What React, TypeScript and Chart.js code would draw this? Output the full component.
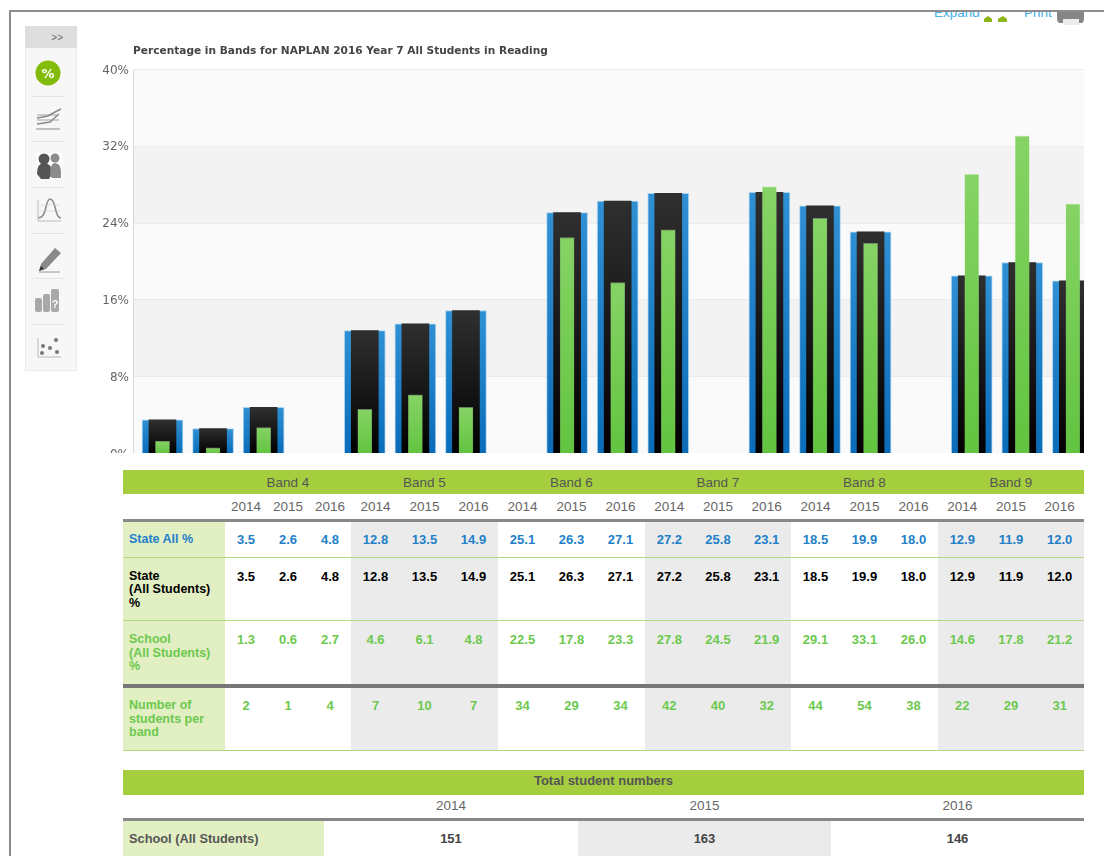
import React, { useEffect, useRef } from "react";
import { Chart, registerables } from "chart.js";

Chart.register(...registerables);

const bands = ["Band 4", "Band 5", "Band 6", "Band 7", "Band 8", "Band 9"];
const years = ["2014", "2015", "2016"];
const stateAll = [3.5, 2.6, 4.8, 12.8, 13.5, 14.9, 25.1, 26.3, 27.1, 27.2, 25.8, 23.1, 18.5, 19.9, 18.0, 12.9, 11.9, 12.0];
const school = [1.3, 0.6, 2.7, 4.6, 6.1, 4.8, 22.5, 17.8, 23.3, 27.8, 24.5, 21.9, 29.1, 33.1, 26.0, 14.6, 17.8, 21.2];
const students = [2, 1, 4, 7, 10, 7, 34, 29, 34, 42, 40, 32, 44, 54, 38, 22, 29, 31];
const totalYears = ["2014", "2015", "2016"];
const totals = [151, 163, 146];
const title = "Percentage in Bands for NAPLAN 2016 Year 7 All Students in Reading";

const SANS = '"Liberation Sans", Arial, sans-serif';
const VERDANA = '"DejaVu Sans", Verdana, sans-serif';
const GREEN_HEAD = "#a5ce3e";
const LABEL_BG = "#e2efc3";
const SHADE = "#ebebeb";
const BLUE_TXT = "#1f7fc9";
const GREEN_TXT = "#6cc94e";

// one slot per year, with an empty slot between bands
const slotOf = (i: number) => Math.floor(i / 3) * 4 + (i % 3);
const points = (values: number[]) => values.map((y, i) => ({ x: slotOf(i), y }));

const barGradient = (top: string, bottom: string) => (ctx: any) => {
  const chart = ctx.chart;
  if (!chart.chartArea || !ctx.parsed) return bottom;
  const yScale = chart.scales.y;
  const g = chart.ctx.createLinearGradient(0, yScale.getPixelForValue(ctx.parsed.y), 0, yScale.getPixelForValue(0));
  g.addColorStop(0, top);
  g.addColorStop(1, bottom);
  return g;
};

const stripes = {
  id: "stripes",
  beforeDraw(chart: any) {
    const { ctx, chartArea, scales } = chart;
    const ticks = scales.y.ticks;
    ctx.save();
    for (let i = 0; i < ticks.length - 1; i++) {
      const y0 = scales.y.getPixelForValue(ticks[i].value);
      const y1 = scales.y.getPixelForValue(ticks[i + 1].value);
      ctx.fillStyle = i % 2 === 0 ? "#fafafa" : "#f3f3f3";
      ctx.fillRect(chartArea.left, y1, chartArea.right - chartArea.left, y0 - y1);
    }
    ctx.restore();
  },
};

function BandChart() {
  const ref = useRef<HTMLCanvasElement>(null);
  useEffect(() => {
    const chart = new Chart(ref.current as HTMLCanvasElement, {
      type: "bar",
      plugins: [stripes],
      data: {
        datasets: [
          {
            label: "School (All Students) %",
            data: points(school),
            backgroundColor: barGradient("#86d365", "#62c440"),
            borderColor: "rgba(175,228,155,0.55)",
            borderWidth: { top: 1, left: 0.5, right: 0.5 },
            barThickness: 14,
            order: 1,
          },
          {
            label: "State (All Students) %",
            data: points(stateAll),
            backgroundColor: barGradient("#2f2f2f", "#000000"),
            barThickness: 27,
            order: 2,
          },
          {
            label: "State All %",
            data: points(stateAll),
            backgroundColor: barGradient("#2f90d4", "#0a6cb8"),
            borderColor: "rgba(120,188,238,0.6)",
            borderWidth: { top: 1, left: 1, right: 1 },
            barThickness: 41,
            order: 3,
          },
        ],
      },
      options: {
        animation: false,
        responsive: false,
        layout: { padding: { bottom: 11.5 } },
        datasets: { bar: { grouped: false } },
        plugins: {
          legend: { display: false },
          tooltip: { enabled: false },
          title: {
            display: true,
            text: title,
            align: "start",
            fullSize: false,
            color: "#444444",
            font: { family: VERDANA, size: 10.6, weight: "bold" },
            padding: { top: 0, bottom: 11.8 },
          },
        },
        scales: {
          x: { type: "linear", min: -0.583, max: 18.22, display: false, offset: false },
          y: {
            min: 0,
            max: 40,
            afterFit: (s: any) => {
              s.width = 33;
            },
            ticks: {
              stepSize: 8,
              color: "#666666",
              padding: 4,
              labelOffset: 1,
              font: { family: VERDANA, size: 12 },
              callback: (v: any) => v + "%",
            },
            grid: { color: "#ebebeb", drawTicks: false },
            border: { color: "#dadada" },
          },
        },
      },
    } as any);
    return () => chart.destroy();
  }, []);
  return (
    <div style={{ position: "absolute", left: 100, top: 45, width: 984, height: 408, overflow: "hidden" }}>
      <canvas ref={ref} width={984} height={420} style={{ display: "block" }} />
    </div>
  );
}

const box = (left: number, top: number, width: number, height: number, extra: React.CSSProperties = {}) =>
  ({ position: "absolute", left, top, width, height, ...extra } as React.CSSProperties);

function Sidebar() {
  const seps = [96, 141, 187, 233, 278, 324];
  const g = "#8a8a8a";
  return (
    <div style={box(25, 26, 52, 345, { background: "#f7f7f7", boxShadow: "inset 0 0 0 1px #ebebeb" })}>
      <div style={box(0, 0, 52, 22, { background: "#dedede", color: "#666", font: `10px ${SANS}`, lineHeight: "24px", textAlign: "right", paddingRight: 14, boxSizing: "border-box" })}>
        &gt;&gt;
      </div>
      {seps.map((y) => (
        <div key={y} style={box(6, y - 26, 34, 1, { background: "#e4e4e4" })} />
      ))}
      <svg style={box(0, 0, 52, 345, { filter: "blur(0.5px)" })} viewBox="0 0 52 345">
        <circle cx="23" cy="47" r="12.5" fill="#82bb08" />
        <text x="23" y="52" textAnchor="middle" fontFamily={VERDANA} fontWeight="bold" fontSize="13" fill="#fff">%</text>
        <g stroke={g} strokeWidth="1.5" fill="none">
          <path d="M12 92 L23 90 L30 86 L36 83" />
          <path d="M12 89 H32 M12 94 H34" strokeWidth="0.8" />
          <path d="M12 98 L25 96 L34 88" />
          <path d="M11 103 H35" strokeWidth="1" />
        </g>
        <g fill="#555">
          <rect x="12" y="127" width="25" height="25" fill="#fff" />
          <circle cx="19" cy="133" r="5.5" />
          <path d="M12 148 q0 -11 7 -11 q8 0 8 11 l-3 5 h-8 z" />
          <circle cx="30" cy="132" r="4.5" fill="#8c8c8c" />
          <path d="M25 149 q0 -12 5 -12 q6 0 6 10 v5 h-9 z" fill="#8c8c8c" />
        </g>
        <g stroke={g} fill="none">
          <path d="M13 192 q6 0 8 -11 q2 -8 4 -8 q3 0 5 8 q2 11 6 11" strokeWidth="1.6" />
          <path d="M13 174 V195 H36" strokeWidth="1" stroke="#bbb" />
          <path d="M14 179 H35 M14 185 H35" strokeWidth="0.6" stroke="#ccc" />
        </g>
        <g>
          <path d="M16 238 L30 222 L36 227 L21 243 L14 245 z" fill="#8a8a8a" />
          <path d="M14 245 L16 240 L19 243 z" fill="#333" />
          <path d="M14 246 H35" stroke="#999" />
        </g>
        <g fill="#a8a8a8">
          <rect x="10" y="272" width="7" height="14" rx="2" />
          <rect x="18" y="268" width="7" height="18" rx="2" />
          <rect x="26" y="263" width="8" height="23" rx="2" />
          <text x="30" y="282" textAnchor="middle" fontFamily={SANS} fontWeight="bold" fontSize="11" fill="#fff">?</text>
        </g>
        <g fill="#777">
          <path d="M13 312 V331 H36" stroke="#bbb" fill="none" />
          <circle cx="31" cy="314" r="2" /><circle cx="18" cy="320" r="2" /><circle cx="25" cy="322" r="2" />
          <circle cx="32" cy="326" r="2" /><circle cx="17" cy="327" r="2" />
        </g>
      </svg>
    </div>
  );
}

function TopLinks() {
  const link: React.CSSProperties = { position: "absolute", top: 0, height: 20, color: "#46aee8", font: `13.5px ${SANS}`, lineHeight: "4px", whiteSpace: "nowrap", overflow: "hidden" };
  return (
    <div style={box(0, 11, 1104, 20)}>
      <div style={{ ...link, left: 934 }}>Expand</div>
      <div style={{ ...link, left: 1024 }}>Print</div>
      <svg style={box(980, 0, 104, 16)} viewBox="0 0 104 16">
        <path d="M4 8 l4 -3 l4 3 v3 h-8 z M18 8 l5 -3 l4 3 v3 h-9 z" fill="#8ab513" />
        <path d="M77 0 h27 v7 q0 5 -3 5 h-21 q-3 0 -3 -5 z" fill="#858585" />
        <rect x="83" y="8" width="16" height="6" fill="#ececec" />
      </svg>
    </div>
  );
}

const colWidths = [102, 42, 42, 42, 49, 49, 49, 49, 49, 49, 48.67, 48.67, 48.66, 49, 49, 49, 48.66, 48.67, 48.67];
const cellBase: React.CSSProperties = { padding: 0, textAlign: "center", verticalAlign: "top" };

function Row({ label, values, color, height, topPad, weight = "bold", line }: any) {
  return (
    <tr style={{ height }}>
      <td style={{ ...cellBase, background: LABEL_BG, color, textAlign: "left", paddingLeft: 6, paddingTop: topPad, font: `bold 12.5px/13.5px ${SANS}`, borderBottom: line }}>
        {label.map((t: string, i: number) => (
          <div key={i}>{t}</div>
        ))}
      </td>
      {values.map((v: any, i: number) => (
        <td
          key={i}
          style={{
            ...cellBase,
            color,
            paddingTop: topPad,
            font: `${weight} 13px/13.5px ${SANS}`,
            background: Math.floor(i / 3) % 2 === 1 ? SHADE : "#fff",
            borderBottom: line,
          }}
        >
          {v}
        </td>
      ))}
    </tr>
  );
}

function BandTable() {
  const fmt = (a: number[]) => a.map((v) => v.toFixed(1));
  return (
    <table style={{ ...box(123, 470, 961, 281), borderCollapse: "collapse", tableLayout: "fixed" }}>
      <colgroup>
        {colWidths.map((w, i) => (
          <col key={i} style={{ width: w }} />
        ))}
      </colgroup>
      <tbody>
        <tr style={{ height: 24, background: GREEN_HEAD }}>
          <td style={cellBase} />
          {bands.map((b) => (
            <td key={b} colSpan={3} style={{ ...cellBase, verticalAlign: "middle", color: "#555", font: `13.5px ${SANS}` }}>
              {b}
            </td>
          ))}
        </tr>
        <tr style={{ height: 26 }}>
          <td style={{ ...cellBase, borderBottom: "3px solid #888" }} />
          {bands.flatMap((b) =>
            years.map((y) => (
              <td key={b + y} style={{ ...cellBase, verticalAlign: "middle", color: "#666", font: `13.5px ${SANS}`, borderBottom: "3px solid #888" }}>
                {y}
              </td>
            ))
          )}
        </tr>
        <Row label={["State All %"]} values={fmt(stateAll)} color={BLUE_TXT} height={37} topPad={11} line="1px solid #b2d97e" />
        <Row label={["State", "(All Students)", "%"]} values={fmt(stateAll)} color="#000" height={63} topPad={12} line="1px solid #b2d97e" />
        <Row label={["School", "(All Students)", "%"]} values={fmt(school)} color={GREEN_TXT} height={65} topPad={12} line="4px solid #777" />
        <Row label={["Number of", "students per", "band"]} values={students} color={GREEN_TXT} height={64} topPad={11} line="1px solid #b2d97e" />
      </tbody>
    </table>
  );
}

function TotalTable() {
  const widths = [201, 254, 253, 253];
  return (
    <table style={{ ...box(123, 770, 961, 86), borderCollapse: "collapse", tableLayout: "fixed" }}>
      <colgroup>
        {widths.map((w, i) => (
          <col key={i} style={{ width: w }} />
        ))}
      </colgroup>
      <tbody>
        <tr style={{ height: 25, background: GREEN_HEAD }}>
          <td colSpan={4} style={{ ...cellBase, verticalAlign: "middle", paddingBottom: 3, color: "#555", font: `bold 13px/20px ${SANS}` }}>
            Total student numbers
          </td>
        </tr>
        <tr style={{ height: 24 }}>
          <td style={{ ...cellBase, borderBottom: "3px solid #888" }} />
          {totalYears.map((y) => (
            <td key={y} style={{ ...cellBase, verticalAlign: "middle", paddingBottom: 2, color: "#666", font: `13.5px ${SANS}`, borderBottom: "3px solid #888" }}>
              {y}
            </td>
          ))}
        </tr>
        <tr style={{ height: 37 }}>
          <td style={{ ...cellBase, verticalAlign: "middle", textAlign: "left", paddingLeft: 6, background: LABEL_BG, color: "#555", font: `bold 12.8px ${SANS}`, borderBottom: `1px solid ${LABEL_BG}` }}>
            School (All Students)
          </td>
          {totals.map((v, i) => (
            <td key={i} style={{ ...cellBase, verticalAlign: "middle", background: i === 1 ? SHADE : "#fff", color: "#444", font: `bold 13px ${SANS}`, borderBottom: `1px solid ${LABEL_BG}` }}>
              {v}
            </td>
          ))}
        </tr>
      </tbody>
    </table>
  );
}

export default function App() {
  return (
    <div style={{ position: "fixed", left: 0, top: 0, width: 1104, height: 856, overflow: "hidden", background: "#fff" }}>
      <TopLinks />
      <div style={box(9, 10, 1095, 2, { background: "#8c8c8c" })} />
      <div style={box(9, 10, 2, 846, { background: "#8c8c8c" })} />
      <Sidebar />
      <BandChart />
      <BandTable />
      <TotalTable />
    </div>
  );
}
